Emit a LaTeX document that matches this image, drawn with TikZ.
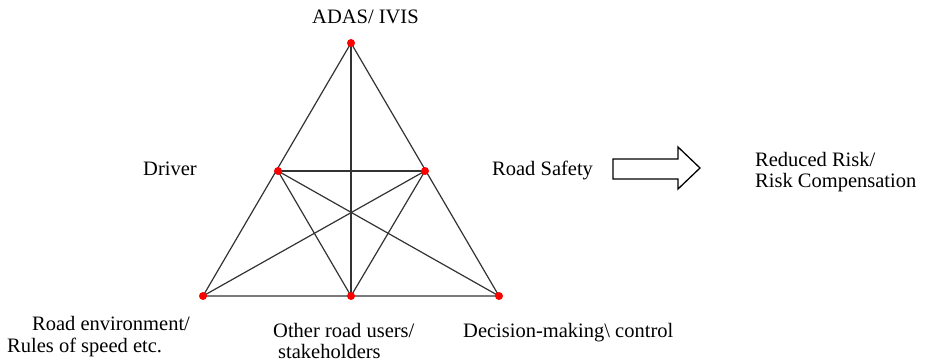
\documentclass[tikz,border=0pt]{standalone}
\usepackage{fontspec}
\setmainfont{LiberationSerif}[Extension=.ttf,UprightFont=*-Regular,BoldFont=*-Bold]
\begin{document}
\begin{tikzpicture}[x=1pt,y=-1pt,
  edge/.style={draw=black!80,line width=1.2pt},
  dot/.style={circle,fill=red,inner sep=0pt,minimum size=8pt},
  lbl/.style={inner sep=0pt,anchor=base west,font=\rmfamily\fontsize{20.5}{23}\selectfont}]
\useasboundingbox[fill=white] (0,0) rectangle (930,362);
% vertices
\coordinate (T) at (351,43);
\coordinate (L) at (278,171);
\coordinate (R) at (425,171);
\coordinate (BL) at (203,296);
\coordinate (BM) at (351,296);
\coordinate (BR) at (499,296);
% edges
\draw[edge] (T) -- (BL) -- (BR) -- cycle;
\draw[edge] (T) -- (BM);
\draw[edge] (L) -- (R);
\draw[edge] (L) -- (BM) -- (R);
\draw[edge] (L) -- (BR);
\draw[edge] (R) -- (BL);
% dots
\foreach \p in {T,L,R,BL,BM,BR} \node[dot] (d\p) at (\p) {};
% labels
\node[lbl] (adas) at (312,23) {ADAS/ IVIS};
\node[lbl] (drv) at (143,175) {Driver};
\node[lbl] (rs) at (492,175) {Road Safety};
\node[lbl] (rr1) at (755,166) {Reduced Risk/};
\node[lbl] (rr2) at (755,187) {Risk Compensation};
\node[lbl] (re1) at (32,330) {Road environment/};
\node[lbl] (re2) at (7,352) {Rules of speed etc.};
\node[lbl] (or1) at (273,337) {Other road users/};
\node[lbl] (or2) at (278,358) {stakeholders};
\node[lbl] (dm) at (463,337) {Decision-making\textbackslash{} control};
% block arrow
\draw[line width=1.3pt,fill=white,line join=miter]
  (613,159) -- (678,159) -- (678,147) -- (700,168) -- (678,189) -- (678,179) -- (613,179) -- cycle;
\end{tikzpicture}
\end{document}
